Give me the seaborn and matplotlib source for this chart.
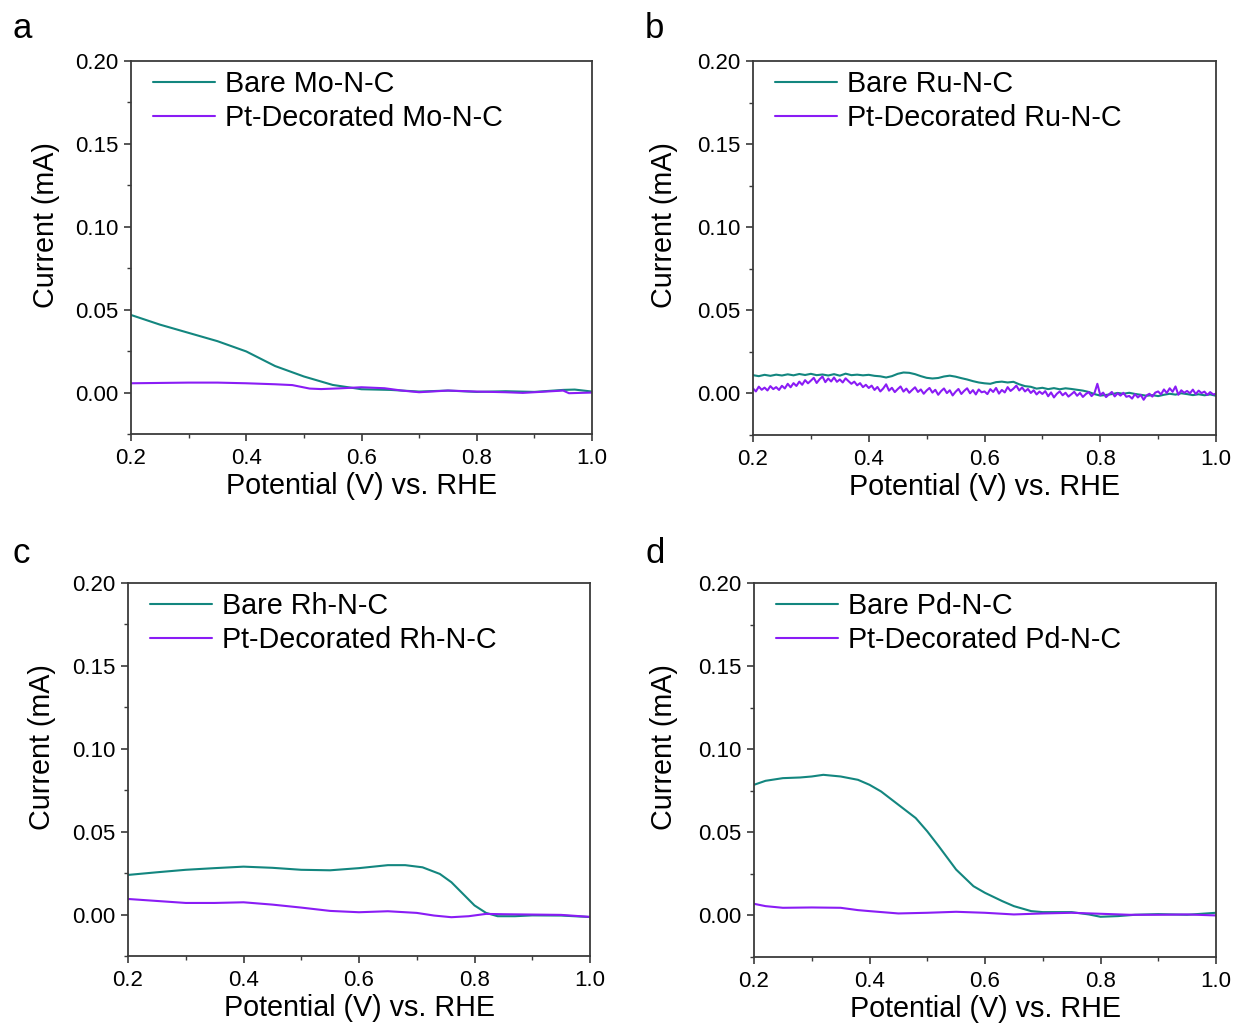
import matplotlib
matplotlib.use("Agg")
import matplotlib.pyplot as plt
from matplotlib.ticker import MultipleLocator, FormatStrFormatter
import seaborn as sns
import numpy as np

# ---------------- data ----------------
metals = ["Mo", "Ru", "Rh", "Pd"]
panel_letters = ["a", "b", "c", "d"]

# Panel a (Mo)
a_bare_x = [0.2, 0.25, 0.3, 0.35, 0.4, 0.45, 0.5, 0.55, 0.6, 0.65, 0.7, 0.75, 0.8, 0.85, 0.9, 0.95, 0.97, 1.0]
a_bare_y = [0.0468, 0.041, 0.036, 0.031, 0.0248, 0.0160, 0.0097, 0.0046, 0.0020, 0.0016, 0.0006, 0.0012,
            0.0004, 0.0008, 0.0004, 0.0016, 0.0018, 0.0006]
a_pt_x = [0.2, 0.25, 0.3, 0.35, 0.4, 0.45, 0.48, 0.51, 0.53, 0.56, 0.6, 0.64, 0.67, 0.7, 0.75, 0.8, 0.85,
          0.88, 0.92, 0.95, 0.96, 1.0]
a_pt_y = [0.0056, 0.0058, 0.0060, 0.0060, 0.0056, 0.0050, 0.0045, 0.0024, 0.0021, 0.0025, 0.0032, 0.0026,
          0.0012, 0.0002, 0.0012, 0.0006, 0.0002, -0.0002, 0.0006, 0.0012, -0.0004, 0.0000]

# Panel b (Ru) - noisy traces
b_bare_x = [round(0.20 + 0.01 * i, 3) for i in range(81)]
b_bare_y = [0.0110, 0.0104, 0.0112, 0.0106, 0.0113, 0.0108, 0.0115, 0.0109, 0.0117, 0.0111,
            0.0118, 0.0110, 0.0114, 0.0108, 0.0116, 0.0107, 0.0119, 0.0110, 0.0113, 0.0109,
            0.0112, 0.0106, 0.0103, 0.0096, 0.0104, 0.0118, 0.0126, 0.0124, 0.0116, 0.0104,
            0.0094, 0.0090, 0.0093, 0.0102, 0.0107, 0.0101, 0.0092, 0.0084, 0.0074, 0.0066,
            0.0061, 0.0058, 0.0068, 0.0071, 0.0066, 0.0070, 0.0055, 0.0044, 0.0040, 0.0029,
            0.0034, 0.0026, 0.0032, 0.0025, 0.0031, 0.0027, 0.0022, 0.0017, 0.0009, -0.0004,
            -0.0013, -0.0009, -0.0004, 0.0003, -0.0002, 0.0004, -0.0003, -0.0008, -0.0014, -0.0010,
            -0.0016, -0.0008, -0.0002, -0.0007, 0.0001, -0.0004, -0.0010, -0.0005, -0.0011, -0.0006,
            -0.0014]
b_pt_x = [round(0.200 + 0.005 * i, 4) for i in range(161)]
b_pt_y = [0.0030, 0.0012, 0.0041, 0.0022, 0.0035, 0.0018, 0.0044, 0.0026, 0.0038, 0.0021,
          0.0046, 0.0030, 0.0058, 0.0037, 0.0062, 0.0045, 0.0071, 0.0052, 0.0080, 0.0061,
          0.0077, 0.0094, 0.0063, 0.0085, 0.0102, 0.0068, 0.0090, 0.0072, 0.0096, 0.0070,
          0.0084, 0.0066, 0.0091, 0.0074, 0.0058, 0.0071, 0.0049, 0.0062, 0.0038, 0.0052,
          0.0033, 0.0047, 0.0021, 0.0039, 0.0012, 0.0030, 0.0055, 0.0017, 0.0034, 0.0008,
          0.0026, 0.0042, 0.0011, 0.0029, 0.0004, 0.0021, 0.0037, 0.0009, 0.0024, -0.0002,
          0.0018, 0.0033, 0.0005, 0.0022, -0.0008, 0.0014, 0.0030, 0.0002, 0.0019, -0.0012,
          0.0010, 0.0027, -0.0003, 0.0016, 0.0031, 0.0001, 0.0020, -0.0006, 0.0024, 0.0007,
          0.0012, -0.0004, 0.0026, 0.0009, 0.0033, -0.0001, 0.0021, 0.0006, 0.0038, 0.0015,
          0.0029, 0.0047, 0.0018, 0.0036, 0.0012, 0.0027, 0.0003, 0.0019, -0.0006, 0.0011,
          -0.0003, 0.0014, -0.0017, 0.0006, -0.0024, -0.0002, 0.0012, -0.0011, 0.0004, -0.0019,
          -0.0005, 0.0010, -0.0014, 0.0003, -0.0021, -0.0004, 0.0008, -0.0016, 0.0002, 0.0058,
          -0.0010, 0.0005, -0.0022, -0.0006, 0.0009, -0.0018, 0.0001, -0.0013, 0.0004, -0.0020,
          -0.0015, -0.0031, -0.0004, -0.0024, -0.0009, -0.0038, -0.0012, -0.0002, -0.0019, 0.0005,
          0.0012, -0.0006, 0.0024, 0.0003, 0.0031, 0.0010, 0.0042, -0.0008, 0.0019, 0.0004,
          0.0015, 0.0001, 0.0023, -0.0004, 0.0017, 0.0002, 0.0011, -0.0009, 0.0008, -0.0006,
          -0.0002]

# Panel c (Rh)
c_bare_x = [0.2, 0.25, 0.3, 0.35, 0.4, 0.45, 0.5, 0.55, 0.6, 0.65, 0.68, 0.71, 0.74, 0.76, 0.78, 0.8,
            0.82, 0.84, 0.87, 0.9, 0.95, 1.0]
c_bare_y = [0.0239, 0.0255, 0.0270, 0.0280, 0.0289, 0.0282, 0.0270, 0.0267, 0.0280, 0.0298, 0.0298,
            0.0285, 0.0245, 0.0195, 0.0125, 0.0055, 0.0010, -0.0010, -0.0010, -0.0005, -0.0006, -0.0015]
c_pt_x = [0.2, 0.25, 0.3, 0.35, 0.4, 0.45, 0.5, 0.55, 0.6, 0.65, 0.7, 0.73, 0.76, 0.79, 0.82, 0.85,
          0.9, 0.95, 1.0]
c_pt_y = [0.0094, 0.0082, 0.0070, 0.0070, 0.0074, 0.0060, 0.0042, 0.0022, 0.0014, 0.0020, 0.0010,
          -0.0006, -0.0016, -0.0010, 0.0004, 0.0002, 0.0000, -0.0002, -0.0014]

# Panel d (Pd)
d_bare_x = [0.2, 0.22, 0.25, 0.28, 0.3, 0.32, 0.35, 0.38, 0.4, 0.42, 0.45, 0.48, 0.5, 0.52, 0.55, 0.58,
            0.6, 0.63, 0.65, 0.68, 0.7, 0.75, 0.78, 0.8, 0.83, 0.86, 0.9, 0.95, 1.0]
d_bare_y = [0.0786, 0.0810, 0.0826, 0.0830, 0.0836, 0.0846, 0.0836, 0.0816, 0.0786, 0.0746, 0.0666,
            0.0586, 0.0506, 0.0416, 0.0276, 0.0176, 0.0136, 0.0086, 0.0056, 0.0026, 0.0020, 0.0020,
            0.0006, -0.0008, -0.0004, 0.0004, 0.0008, 0.0004, 0.0016]
d_pt_x = [0.2, 0.22, 0.25, 0.3, 0.35, 0.38, 0.4, 0.45, 0.5, 0.55, 0.6, 0.65, 0.7, 0.75, 0.8, 0.85,
          0.9, 0.95, 1.0]
d_pt_y = [0.0070, 0.0056, 0.0046, 0.0048, 0.0046, 0.0032, 0.0026, 0.0012, 0.0016, 0.0022, 0.0016,
          0.0006, 0.0012, 0.0016, 0.0010, 0.0004, 0.0004, 0.0006, 0.0000]

series = [
    (a_bare_x, a_bare_y, a_pt_x, a_pt_y),
    (b_bare_x, b_bare_y, b_pt_x, b_pt_y),
    (c_bare_x, c_bare_y, c_pt_x, c_pt_y),
    (d_bare_x, d_bare_y, d_pt_x, d_pt_y),
]

# ---------------- style ----------------
sns.set_theme(style="ticks")
plt.rcParams["font.family"] = ["Liberation Sans", "DejaVu Sans"]
plt.rcParams["axes.unicode_minus"] = False
plt.rcParams["text.color"] = "black"
plt.rcParams["axes.labelcolor"] = "black"

TEAL = "#13867f"
PURPLE = "#8a1cf5"
SPINE = "#3a3a3a"

W, H = 1238, 1023
fig = plt.figure(figsize=(W / 100, H / 100), dpi=100)

# axes boxes in pixels: (left, right, top, bottom)
boxes = [(131, 592, 61, 434), (753, 1216, 61, 435), (128, 590, 583, 956), (754, 1216, 583, 957)]
ylabel_x = [-0.154, -0.162, -0.156, -0.164]
letter_pos = [(12, 38), (645, 38), (12, 563), (645, 563)]

for i, (box, (bx, by, px, py)) in enumerate(zip(boxes, series)):
    l, r, t, b = box
    ax = fig.add_axes([l / W, 1 - b / H, (r - l) / W, (b - t) / H])
    sns.lineplot(x=bx, y=by, ax=ax, color=TEAL, lw=1.5, sort=False, estimator=None,
                 label=f"Bare {metals[i]}-N-C")
    sns.lineplot(x=px, y=py, ax=ax, color=PURPLE, lw=1.5, sort=False, estimator=None,
                 label=f"Pt-Decorated {metals[i]}-N-C")
    ax.set_xlim(0.2, 1.0)
    ax.set_ylim(-0.025, 0.2)
    ax.xaxis.set_major_locator(MultipleLocator(0.2))
    ax.xaxis.set_minor_locator(MultipleLocator(0.1))
    ax.yaxis.set_major_locator(MultipleLocator(0.05))
    ax.yaxis.set_minor_locator(MultipleLocator(0.025))
    ax.xaxis.set_major_formatter(FormatStrFormatter("%.1f"))
    ax.yaxis.set_major_formatter(FormatStrFormatter("%.2f"))
    ax.tick_params(which="major", direction="out", length=5, width=1.2, color=SPINE,
                   labelcolor="black", labelsize=16, pad=4, top=False, right=False)
    ax.tick_params(which="minor", direction="out", length=3, width=1.0, color=SPINE,
                   top=False, right=False)
    ax.tick_params(axis="x", which="major", pad=5)
    for s in ax.spines.values():
        s.set_color(SPINE)
        s.set_linewidth(1.3)
    ax.set_xlabel("Potential (V) vs. RHE", fontsize=20.7, labelpad=2)
    ax.set_ylabel("Current (mA)", fontsize=20.7)
    ax.yaxis.set_label_coords(ylabel_x[i], 0.56)
    leg = ax.legend(loc="upper left", bbox_to_anchor=(0.005, 1.03), frameon=False, fontsize=20.7,
                    handlelength=2.15, handletextpad=0.35, labelspacing=0.2, borderaxespad=0.3)
    for line in leg.get_lines():
        line.set_linewidth(1.5)
    fig.text(letter_pos[i][0] / W, 1 - letter_pos[i][1] / H, panel_letters[i], fontsize=25,
             ha="left", va="baseline", color="black")

fig.savefig("out.png", dpi=100)
